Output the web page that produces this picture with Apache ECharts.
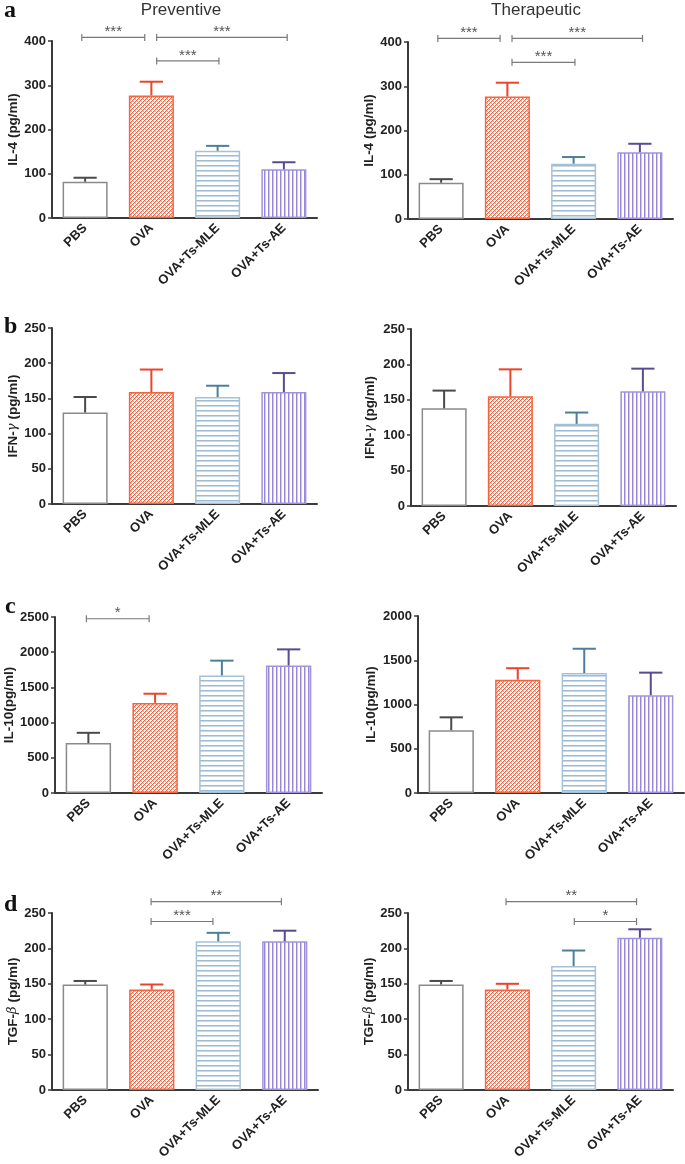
<!DOCTYPE html>
<html><head><meta charset="utf-8">
<script src="https://cdn.jsdelivr.net/npm/echarts@6/dist/echarts.min.js"></script>
<style>html,body{margin:0;padding:0;background:#fff}#c{width:685px;height:1164px}</style>
</head><body><div id="c"></div>
<script>
// ---------- data ----------
const categories = ['PBS', 'OVA', 'OVA+Ts-MLE', 'OVA+Ts-AE'];

const il4Prev = [82, 277, 152, 110];
const il4PrevErr = [9, 31, 11, 16];
const il4Ther = [82, 277, 125, 151];
const il4TherErr = [8, 31, 15, 19];

const ifnPrev = [130, 159, 152, 159];
const ifnPrevErr = [22, 32, 16, 27];
const ifnTher = [138, 155, 116, 162];
const ifnTherErr = [25, 38, 16, 32];

const il10Prev = [710, 1280, 1670, 1810];
const il10PrevErr = [145, 130, 210, 230];
const il10Ther = [710, 1280, 1355, 1105];
const il10TherErr = [145, 130, 275, 255];

const tgfPrev = [149, 142, 210, 210];
const tgfPrevErr = [5, 7, 12, 15];
const tgfTher = [149, 142, 175, 215];
const tgfTherErr = [5, 8, 22, 12];

// significance brackets: [from (category units), to (category units), y value, label]
const il4PrevSig = [[-0.05, 0.90, 408, '***'], [1.08, 3.05, 408, '***'], [1.08, 2.02, 355, '***']];
const il4TherSig = [[-0.05, 0.89, 408, '***'], [1.07, 3.04, 408, '***'], [1.07, 2.02, 354, '***']];
const il10PrevSig = [[-0.03, 0.91, 2475, '*']];
const tgfPrevSig = [[0.99, 2.95, 266, '**'], [0.99, 1.92, 238, '***']];
const tgfTherSig = [[0.98, 2.95, 266, '**'], [2.01, 2.95, 238, '*']];

// ---------- styles ----------
const FONT = '"Liberation Sans", Arial, sans-serif';
function makePattern(w, h, draw) {
  const c = document.createElement('canvas');
  c.width = w; c.height = h;
  const ctx = c.getContext('2d');
  ctx.fillStyle = '#ffffff';
  ctx.fillRect(0, 0, w, h);
  draw(ctx);
  return { image: c, repeat: 'repeat' };
}
const ovaPattern = makePattern(4, 4, ctx => {
  for (let x = 0; x < 4; x++) for (let y = 0; y < 4; y++) {
    if ((x + y) % 4 === 0) { ctx.fillStyle = '#f1603d'; ctx.fillRect(x, y, 1, 1); }
    else if ((x - y + 4) % 4 === 0) { ctx.fillStyle = '#f6a085'; ctx.fillRect(x, y, 1, 1); }
    else if ((x + y) % 4 === 1) { ctx.fillStyle = '#f9c3b3'; ctx.fillRect(x, y, 1, 1); }
  }
});
const mlePattern = makePattern(4, 5, ctx => {
  ctx.fillStyle = '#9ebbd3'; ctx.fillRect(0, 0, 4, 1);
  ctx.fillStyle = '#c9dbe9'; ctx.fillRect(0, 1, 4, 1);
});
const aePattern = makePattern(4, 4, ctx => {
  ctx.fillStyle = '#9886d8'; ctx.fillRect(0, 0, 1, 4);
  ctx.fillStyle = '#cfc6ef'; ctx.fillRect(1, 0, 1, 4);
});
const barFills = ['#ffffff', ovaPattern, mlePattern, aePattern];
const barBorders = ['#8a8a8a', '#f2653f', '#a5c1d8', '#a292de'];
const errColors = ['#4a4a4a', '#e8452a', '#4d7f97', '#5a4a8e'];

// ---------- layout ----------
const panels = [
  { grid: { left: 52, top: 41, width: 265, height: 177 }, vals: il4Prev, errs: il4PrevErr, max: 400, interval: 100, name: 'IL-4 (pg/ml)', nameGap: 32, sig: il4PrevSig },
  { grid: { left: 408, top: 42, width: 265, height: 177 }, vals: il4Ther, errs: il4TherErr, max: 400, interval: 100, name: 'IL-4 (pg/ml)', nameGap: 32, sig: il4TherSig },
  { grid: { left: 52, top: 328, width: 265, height: 176 }, vals: ifnPrev, errs: ifnPrevErr, max: 250, interval: 50, name: 'IFN-{g|γ} (pg/ml)', nameGap: 32, sig: [] },
  { grid: { left: 411, top: 329, width: 265, height: 177 }, vals: ifnTher, errs: ifnTherErr, max: 250, interval: 50, name: 'IFN-{g|γ} (pg/ml)', nameGap: 34, sig: [] },
  { grid: { left: 55, top: 617, width: 267, height: 176 }, vals: il10Prev, errs: il10PrevErr, max: 2500, interval: 500, name: 'IL-10(pg/ml)', nameGap: 35, sig: il10PrevSig },
  { grid: { left: 418, top: 616, width: 266, height: 177 }, vals: il10Ther, errs: il10TherErr, max: 2000, interval: 500, name: 'IL-10(pg/ml)', nameGap: 40, sig: [] },
  { grid: { left: 52, top: 913, width: 266, height: 177 }, vals: tgfPrev, errs: tgfPrevErr, max: 250, interval: 50, name: 'TGF-{g|β} (pg/ml)', nameGap: 32, sig: tgfPrevSig },
  { grid: { left: 408, top: 913, width: 265, height: 177 }, vals: tgfTher, errs: tgfTherErr, max: 250, interval: 50, name: 'TGF-{g|β} (pg/ml)', nameGap: 32, sig: tgfTherSig }
];

const grids = [], xAxes = [], yAxes = [], series = [];
panels.forEach((p, i) => {
  grids.push(Object.assign({ containLabel: false }, p.grid));
  xAxes.push({
    type: 'category', gridIndex: i, data: categories, boundaryGap: true,
    axisLine: { show: true, lineStyle: { color: '#3a3a3a', width: 2 } },
    axisTick: { show: false },
    axisLabel: { interval: 0, rotate: 45, margin: 8, fontFamily: FONT, fontWeight: 'bold', fontSize: 13, color: '#222' },
    splitLine: { show: false }
  });
  yAxes.push({
    type: 'value', gridIndex: i, min: 0, max: p.max, interval: p.interval,
    name: p.name, nameLocation: 'middle', nameGap: p.nameGap,
    nameTextStyle: { fontFamily: FONT, fontWeight: 'bold', fontSize: 13.5, color: '#222',
      rich: { g: { fontFamily: '"DejaVu Serif", serif', fontStyle: 'italic', fontWeight: 'normal', fontSize: 13, color: '#222' } } },
    axisLine: { show: true, lineStyle: { color: '#3a3a3a', width: 2 } },
    axisTick: { show: true, length: 4, lineStyle: { color: '#3a3a3a', width: 1.5 } },
    axisLabel: { margin: 6, fontFamily: FONT, fontWeight: 'bold', fontSize: 13, color: '#222', formatter: v => String(v) },
    splitLine: { show: false }
  });
  series.push({
    type: 'bar', xAxisIndex: i, yAxisIndex: i, barWidth: '68%', silent: true,
    data: p.vals.map((v, k) => ({ value: v, itemStyle: { color: barFills[k], borderColor: barBorders[k], borderWidth: 1.5 } }))
  });
  series.push({
    type: 'custom', xAxisIndex: i, yAxisIndex: i, clip: false, silent: true, z: 3,
    encode: { x: 0, y: 1 },
    data: p.vals.map((v, k) => [k, v, p.errs[k]]),
    renderItem: (params, api) => {
      const k = api.value(0), v = api.value(1), e = api.value(2);
      const base = api.coord([k, v]);
      const top = api.coord([k, v + e]);
      const half = api.size([1, 0])[0] * 0.175;
      const st = { stroke: errColors[params.dataIndex], lineWidth: 2, fill: null };
      return { type: 'group', children: [
        { type: 'line', shape: { x1: base[0], y1: base[1], x2: top[0], y2: top[1] }, style: st },
        { type: 'line', shape: { x1: top[0] - half, y1: top[1], x2: top[0] + half, y2: top[1] }, style: st }
      ] };
    }
  });
  if (p.sig.length) {
    const sig = p.sig;
    series.push({
      type: 'custom', xAxisIndex: i, yAxisIndex: i, clip: false, silent: true, z: 4,
      encode: { x: 0, y: 1 },
      data: sig.map(s => [0, s[2]]),
      renderItem: (params, api) => {
        const s = sig[params.dataIndex];
        const origin = api.coord([0, s[2]]);
        const band = api.size([1, 0])[0];
        const xa = origin[0] + s[0] * band, xb = origin[0] + s[1] * band, y = origin[1];
        const st = { stroke: '#7a7a7a', lineWidth: 1.2, fill: null };
        return { type: 'group', children: [
          { type: 'line', shape: { x1: xa, y1: y, x2: xb, y2: y }, style: st },
          { type: 'line', shape: { x1: xa, y1: y - 3.5, x2: xa, y2: y + 3.5 }, style: st },
          { type: 'line', shape: { x1: xb, y1: y - 3.5, x2: xb, y2: y + 3.5 }, style: st },
          { type: 'text', style: { text: s[3], x: (xa + xb) / 2, y: y + 2, align: 'center', verticalAlign: 'bottom',
            font: '15px ' + FONT, fill: '#555' } }
        ] };
      }
    });
  }
});

const textEl = (text, x, y, font, align, vAlign, fill) => ({ type: 'text', x: x, y: y,
  style: { text: text, font: font, fill: fill || '#222', align: align, verticalAlign: vAlign } });
const titleFont = '17px ' + FONT;
const letterFont = 'bold 24px "Liberation Serif", "Times New Roman", serif';

const chart = echarts.init(document.getElementById('c'), null, { renderer: 'canvas' });
chart.setOption({
  animation: false,
  backgroundColor: '#ffffff',
  grid: grids, xAxis: xAxes, yAxis: yAxes, series: series,
  graphic: [
    textEl('Preventive', 181, 2, titleFont, 'center', 'top', '#333'),
    textEl('Therapeutic', 536, 2, titleFont, 'center', 'top', '#333'),
    textEl('a', 4, 23, letterFont, 'left', 'bottom', '#111'),
    textEl('b', 4, 339, letterFont, 'left', 'bottom', '#111'),
    textEl('c', 5, 619, letterFont, 'left', 'bottom', '#111'),
    textEl('d', 4, 917, letterFont, 'left', 'bottom', '#111')
  ]
});
</script>
</body></html>
